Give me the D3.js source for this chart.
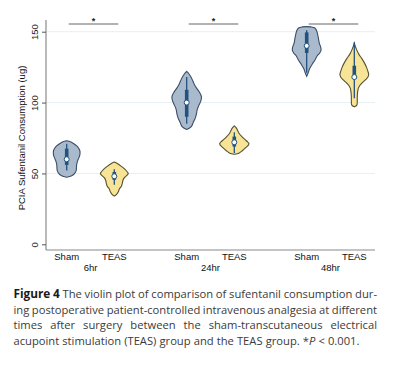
<!DOCTYPE html>
<html><head><meta charset="utf-8">
<script src="https://cdn.jsdelivr.net/npm/d3@7"></script>
<style>
html,body{margin:0;padding:0;background:#fff;}
svg{display:block;}
</style></head>
<body>
<svg id="c" width="413" height="365"></svg>
<script>
// ---------- DATA ----------
const times = ["6hr", "24hr", "48hr"];
const groups = ["Sham", "TEAS"];
const yTicks = [0, 50, 100, 150];
const yLabel = "PCIA Sufentanil Consumption (ug)";
const sigLabel = "*";

// density profiles: [value (ug), relative density]
const densSham6 = [[47.3,0],[48.3,0.34],[50,0.54],[52,0.64],[54,0.66],[56,0.67],[58,0.71],[60,0.78],[62,0.86],[64,0.9],[66,0.89],[68,0.8],[69.5,0.68],[71,0.48],[72.3,0.25],[73,0]];
const densTeas6 = [[34,0],[35,0.14],[37,0.27],[39,0.34],[41,0.48],[43,0.54],[45,0.58],[47,0.68],[49,0.88],[50,0.94],[51,0.88],[53,0.71],[55,0.48],[57,0.2],[58,0]];
const densSham24 = [[81,0],[83,0.31],[86,0.44],[89,0.58],[92,0.66],[95,0.71],[98,0.82],[101,0.95],[104,1.0],[107,0.88],[110,0.68],[113,0.51],[117,0.34],[120,0.17],[122,0]];
const densTeas24 = [[63.5,0],[64.5,0.34],[66,0.54],[68,0.75],[70,0.95],[71,0.99],[72,0.92],[74,0.71],[76,0.51],[78,0.34],[80,0.24],[82,0.14],[83.5,0]];
const densSham48 = [[118.5,0],[121,0.1],[124,0.2],[127,0.37],[130,0.56],[133,0.71],[135,0.88],[137,0.97],[139,0.95],[142,0.85],[145,0.8],[147,0.76],[149,0.72],[151,0.66],[152.6,0.55],[153.4,0.3],[153.6,0]];
const densTeas48 = [[97,0],[98.2,0.17],[101,0.2],[104,0.2],[107,0.22],[110,0.27],[112,0.37],[114,0.54],[116,0.75],[118,0.92],[120,0.97],[122,0.92],[125,0.82],[128,0.68],[131,0.51],[134,0.31],[137,0.17],[140,0.06],[142,0]];

// box stats: [whisker low, q1, median, q3, whisker high]
const boxSham6 = [52, 56, 60, 67.5, 71];
const boxTeas6 = [42, 45.5, 48, 51, 53];
const boxSham24 = [85, 90, 100, 109, 118];
const boxTeas24 = [64.5, 69, 72, 76, 79];
const boxSham48 = [121, 135, 140, 149.5, 151];
const boxTeas48 = [103, 118.5, 118, 126, 142.5];

const violins = [
  {time:"6hr", group:"Sham", dens:densSham6, box:boxSham6},
  {time:"6hr", group:"TEAS", dens:densTeas6, box:boxTeas6},
  {time:"24hr", group:"Sham", dens:densSham24, box:boxSham24},
  {time:"24hr", group:"TEAS", dens:densTeas24, box:boxTeas24},
  {time:"48hr", group:"Sham", dens:densSham48, box:boxSham48},
  {time:"48hr", group:"TEAS", dens:densTeas48, box:boxTeas48}
];

const captionLines = [
  "The violin plot of comparison of sufentanil consumption dur-",
  "ing postoperative patient-controlled intravenous analgesia at different",
  "times after surgery between the sham-transcutaneous electrical",
  "acupoint stimulation (TEAS) group and the TEAS group."
];

// ---------- LAYOUT ----------
const svg = d3.select("#c");
const plot = {left:46, right:375, top:20, bottom:250};

const y = d3.scaleLinear().domain([0,150]).range([244.3, 31.7]);
const xTime = d3.scaleBand().domain(times).range([30.5, 390.5]).paddingInner(0).paddingOuter(0);
const xGroup = d3.scalePoint().domain(groups).range([0, xTime.bandwidth()]).padding(0.76);
const w = d3.scaleLinear().domain([0,1]).range([0, 14.8]);
const cx = d => xTime(d.time) + xGroup(d.group);

const fill = {Sham:"#a9bacd", TEAS:"#f8e497"};
const stroke = {Sham:"#3c4d66", TEAS:"#55502e"};
const boxCol = "#24527e";
const font = "Liberation Sans, Arial, sans-serif";

// grid
svg.append("g").selectAll("line").data(yTicks.filter(t=>t>0)).join("line")
  .attr("x1", plot.left+1).attr("x2", plot.right)
  .attr("y1", d=>y(d)).attr("y2", d=>y(d))
  .attr("stroke", "#e6eff2").attr("stroke-width", 1);

// axes lines
svg.append("line").attr("x1", plot.left).attr("x2", plot.left).attr("y1", plot.top).attr("y2", plot.bottom)
  .attr("stroke", "#8a8a8a").attr("stroke-width", 1.2);
svg.append("line").attr("x1", plot.left).attr("x2", plot.right).attr("y1", plot.bottom).attr("y2", plot.bottom)
  .attr("stroke", "#8a8a8a").attr("stroke-width", 1.2);

// y axis
const yAxis = d3.axisLeft(y).tickValues(yTicks).tickSize(4).tickPadding(0);
const gy = svg.append("g").attr("transform", `translate(${plot.left},0)`).call(yAxis);
gy.select(".domain").remove();
gy.selectAll(".tick line").attr("stroke", "#555");
gy.selectAll(".tick text")
  .attr("x", 0).attr("dy", 0)
  .attr("transform", "translate(-8.5,0) rotate(-90)")
  .attr("text-anchor", "middle")
  .attr("font-family", font)
  .attr("font-size", 9.5).attr("fill", "#222");

svg.append("text")
  .attr("transform", `translate(25,${(y(0)+y(150))/2}) rotate(-90)`)
  .attr("text-anchor", "middle")
  .attr("font-family", font)
  .attr("font-size", 9.5).attr("fill", "#111")
  .text(yLabel);

// x labels
svg.append("g").selectAll("text").data(violins).join("text")
  .attr("x", d=>cx(d)).attr("y", 260)
  .attr("text-anchor", "middle")
  .attr("font-family", font)
  .attr("font-size", 9.5).attr("fill", "#111")
  .text(d=>d.group);
svg.append("g").selectAll("text").data(times).join("text")
  .attr("x", d=>xTime(d)+xTime.bandwidth()/2).attr("y", 270.5)
  .attr("text-anchor", "middle")
  .attr("font-family", font)
  .attr("font-size", 9.5).attr("fill", "#111")
  .text(d=>d);

// significance bars
const sig = svg.append("g");
times.forEach(t => {
  const x1 = xTime(t) + xGroup("Sham"), x2 = xTime(t) + xGroup("TEAS");
  sig.append("line").attr("x1", x1+2).attr("x2", x2+4).attr("y1", 24).attr("y2", 24)
    .attr("stroke", "#555").attr("stroke-width", 0.9);
  sig.append("text").attr("x", (x1+x2)/2+3).attr("y", 23.5).attr("text-anchor", "middle")
    .attr("font-family", font).attr("font-size", 9).attr("font-weight", "bold")
    .attr("fill", "#222").text(sigLabel);
});

// violins
const vg = svg.append("g");
violins.forEach(v => {
  const c = cx(v);
  const area = d3.area()
    .y(d => y(d[0]))
    .x0(d => c - w(d[1]))
    .x1(d => c + w(d[1]))
    .curve(d3.curveCatmullRom);
  vg.append("path").attr("d", area(v.dens))
    .attr("fill", fill[v.group]).attr("stroke", stroke[v.group]).attr("stroke-width", 1.1);
  const b = v.box;
  vg.append("line").attr("x1", c).attr("x2", c).attr("y1", y(b[0])).attr("y2", y(b[4]))
    .attr("stroke", boxCol).attr("stroke-width", 1.3);
  vg.append("rect").attr("x", c-1.8).attr("width", 3.6)
    .attr("y", y(Math.max(b[1],b[3]))).attr("height", Math.abs(y(b[1])-y(b[3])))
    .attr("fill", boxCol);
  vg.append("circle").attr("cx", c).attr("cy", y(b[2])).attr("r", 2.5)
    .attr("fill", "#fff").attr("stroke", boxCol).attr("stroke-width", 1);
});

// caption
const cap = svg.append("g").attr("font-family", "Open Sans, Noto Sans, sans-serif").attr("font-size", 11.2).attr("fill", "#3a3a3a");
const capLeft = 13.5, capRight = 377, baselines = [298, 313.5, 329, 344.5];
function layoutLine(words, yb, justify) {
  const els = words.map(wd => {
    const e = cap.append("text").attr("y", yb).text(wd.t);
    if (wd.bold) e.attr("font-weight", "bold").attr("fill", "#1a1a1a").attr("font-size", 11.8);
    if (wd.italic) e.attr("font-style", "italic");
    return e;
  });
  const widths = els.map(e => e.node().getComputedTextLength());
  const total = d3.sum(widths);
  const space = 3.1;
  const gap = justify ? (capRight - capLeft - total) / (els.length - 1) : space;
  let x = capLeft;
  els.forEach((e, i) => {
    e.attr("x", x);
    x += widths[i] + (words[i].noSpace ? 0 : gap);
  });
}
captionLines.forEach((line, i) => {
  let words = line.split(" ").map(t => ({t}));
  if (i === 0) words = [{t:"Figure", bold:true}, {t:"4", bold:true}].concat(words);
  if (i === captionLines.length - 1) {
    words.push({t:"*", noSpace:true});
    words.push({t:"P", italic:true});
    words.push({t:"<"});
    words.push({t:"0.001."});
  }
  layoutLine(words, baselines[i], i < captionLines.length - 1);
});
</script>
</body></html>
